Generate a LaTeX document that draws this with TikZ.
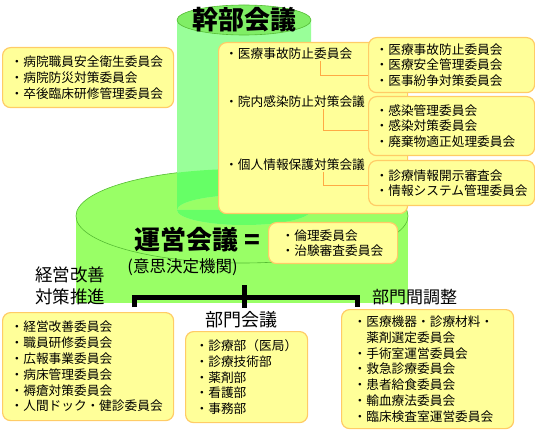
\documentclass[tikz,border=0pt]{standalone}
\usepackage{fontspec}
\setmainfont{Noto Sans CJK JP}
\usepackage{tikz}
\usetikzlibrary{positioning,calc}

\definecolor{kanbumidori}{HTML}{99FF99}
\definecolor{kanbufuta}{HTML}{80EE66}
\definecolor{futasen}{HTML}{55BB33}
\definecolor{uneimidori}{HTML}{99FF66}
\definecolor{kasanari}{HTML}{66FF66}
\definecolor{hako}{HTML}{FFFF99}
\definecolor{hakosen}{HTML}{FFCC66}
\definecolor{sen}{HTML}{FFAA44}

\begin{document}
\begin{tikzpicture}[x=1pt,y=-1pt,
  iinkai/.style={draw=hakosen,line width=1.2pt,fill=hako,rounded corners=8pt,anchor=north west,align=left,inner ysep=0pt,font=\fontsize{12.7}{15.8}\selectfont},
  koumoku/.style={anchor=west,inner sep=1pt,font=\fontsize{12.7}{15.8}\selectfont},
  renraku/.style={draw=sen,line width=0.8pt},
  kasen/.style={line width=5pt},
  midashi/.style={inner sep=0pt,font=\fontsize{#1}{#1}\selectfont}]
  \useasboundingbox (0,0) rectangle (535,430); % 画像の大きさ
  \fill[uneimidori] (76,216) rectangle (408,303); % 運営会議の円柱（胴）
  \filldraw[fill=uneimidori,draw=futasen,line width=0.6pt] (242,216) ellipse [x radius=166, y radius=47]; % 運営会議の円柱（上面）
  \fill[kanbumidori] (177,20) rectangle (311,210) (244,210) ellipse [x radius=67, y radius=15]; % 幹部会議の円柱（胴）
  \begin{scope}
    \clip (242,216) ellipse [x radius=166, y radius=47];
    \fill[kasanari] (177,20) rectangle (311,210) (244,210) ellipse [x radius=67, y radius=15]; % 上面に重なる部分
  \end{scope}
  \filldraw[fill=kanbufuta,draw=futasen,line width=0.6pt] (244,20) ellipse [x radius=67, y radius=15]; % 幹部会議の円柱（上面）
  \node[midashi=26] (kanbu) at (244,19.5) {\bfseries 幹部会議};

  \node[iinkai,text width=155pt,inner xsep=8pt,minimum height=60pt] (anzen) at (2,47)
    {・病院職員安全衛生委員会\\・病院防災対策委員会\\・卒後臨床研修管理委員会};

  \node[iinkai,minimum width=189pt,minimum height=171pt] (kanbuhako) at (218,42) {}; % 幹部会議の下の会議
  \node[koumoku] (jiko) at (224,54) {・医療事故防止委員会};
  \node[koumoku] (kansen) at (224,102) {・院内感染防止対策会議};
  \node[koumoku] (kojin) at (224,165) {・個人情報保護対策会議};

  \node[iinkai,text width=152pt,inner xsep=7pt,minimum height=55pt] (jikohako) at (368,37)
    {・医療事故防止委員会\\・医療安全管理委員会\\・医事紛争対策委員会};
  \node[iinkai,text width=152pt,inner xsep=7pt,minimum height=59pt] (kansenhako) at (368,96)
    {・感染管理委員会\\・感染対策委員会\\・廃棄物適正処理委員会};
  \node[iinkai,text width=152pt,inner xsep=7pt,minimum height=45pt] (kojinhako) at (368,160)
    {・診療情報開示審査会\\・情報システム管理委員会};
  \draw[renraku] ([xshift=-33pt]jiko.south east) |- ([yshift=-10.5pt]jikohako.west);
  \draw[renraku] ([xshift=-43pt]kansen.south east) |- ([yshift=-4.5pt]kansenhako.west);
  \draw[renraku] ([xshift=-43pt]kojin.south east) |- ([yshift=-2.5pt]kojinhako.west);

  \node[midashi=26] (unei) at (197.5,240) {\bfseries 運営会議 =};
  \node[midashi=16.5] (ishi) at (182.5,267) {(意思決定機関)};
  \node[iinkai,text width=103pt,inner xsep=13pt,minimum height=41pt] (rinri) at (268,222)
    {・倫理委員会\\・治験審査委員会};

  \node[midashi=17.5,align=center,font=\fontsize{17.5}{22}\selectfont] (kaizen) at (70,286) {経営改善\\対策推進};
  \node[midashi=18] (bumonkaigi) at (241,320) {部門会議};
  \node[midashi=17] (chousei) at (414.5,297) {部門間調整};

  \node[iinkai,text width=155pt,inner xsep=8pt,minimum height=108pt] (keiei) at (2,312)
    {・経営改善委員会\\・職員研修委員会\\・広報事業委員会\\・病床管理委員会\\・褥瘡対策委員会\\・人間ドック・健診委員会};
  \node[iinkai,text width=102pt,inner xsep=10pt,minimum height=91pt] (bumon) at (185,331)
    {・診療部（医局）\\・診療技術部\\・薬剤部\\・看護部\\・事務部};
  \node[iinkai,text width=148pt,inner xsep=12pt,minimum height=119pt] (choseihako) at (341,309)
    {・医療機器・診療材料・\\\hspace*{12.7pt}薬剤選定委員会\\・手術室運営委員会\\・救急診療委員会\\・患者給食委員会\\・輸血療法委員会\\・臨床検査室運営委員会};

  \coordinate (bunki) at (244,285);
  \coordinate (bunkishita) at (244,308);
  \coordinate (kaname) at (244,297.5);
  \coordinate (hidari) at (134.5,307);
  \coordinate (migi) at (357.5,307);
  \draw[kasen] (hidari) |- (kaname) -| (migi); % 三つに分かれる線
  \draw[kasen] (bunki) -- (bunkishita);
\end{tikzpicture}
\end{document}
